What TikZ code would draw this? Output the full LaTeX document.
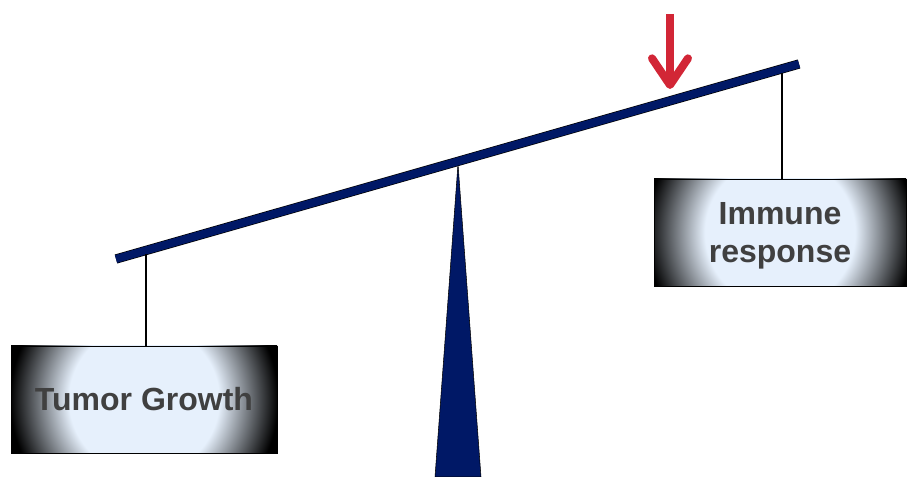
\documentclass[tikz,border=0pt]{standalone}
\usepackage{fontspec}
\setmainfont{Liberation Sans}
\usetikzlibrary{arrows.meta, calc}

\definecolor{beamnavy}{HTML}{001866}
\definecolor{cuered}{HTML}{D22636}
\definecolor{glowblue}{HTML}{E6F0FC}
\definecolor{labelgray}{HTML}{404040}
\pgfdeclareradialshading{boxglow}{\pgfpoint{0bp}{0bp}}{color(0bp)=(glowblue); color(14bp)=(glowblue); color(25bp)=(black); color(50bp)=(black)}

\begin{document}
\begin{tikzpicture}[
    x=0.75pt, y=-0.75pt,
    glowbox/.style={rectangle, draw=black, line width=0.6pt, inner sep=0pt, minimum height=80.25pt, align=center, text=labelgray, font=\fontsize{24}{28.5}\selectfont\bfseries,
        path picture={\shade[shading=boxglow] ([shift={(-134,-134)}]path picture bounding box.center) rectangle ([shift={(134,134)}]path picture bounding box.center);}},
    beam/.style={draw=beamnavy, line width=6pt, preaction={draw=black, line width=7pt}},
    hanger/.style={draw=black, line width=1.5pt},
    cuearrow/.style={-{Straight Barb[length=20pt, width=27pt, round]}, draw=cuered, line width=6pt}
]
\useasboundingbox (0,0) rectangle (908,477);

% 1. Points on the beam
\coordinate (beamL) at (116,259);
\coordinate (beamR) at (799,64);
\coordinate (pivot) at (458,164);
\coordinate (hookL) at (146,254);
\coordinate (hookR) at (782,73);

% 2. Fulcrum
\filldraw[fill=beamnavy, draw=black, line width=0.4pt] (pivot) -- (481,477) -- (435,477) -- cycle;

% 3. Beam
\draw[beam] (beamL) -- (beamR);

% 4. Weights
\node[glowbox, minimum width=199.5pt] (tumor) at (144,399.5) {Tumor Growth};
\node[glowbox, minimum width=189pt, text depth=0pt] (immune) at (780,232.5) {Immune\\response};

% 5. Hangers
\draw[hanger] (hookL) -- (hookL |- tumor.north);
\draw[hanger] (hookR) -- (hookR |- immune.north);

% 6. Push arrow
\coordinate (cuetop) at (670,14);
\coordinate (cuetip) at (670,89);
\draw[cuearrow] (cuetop) -- (cuetip);

\end{tikzpicture}
\end{document}
